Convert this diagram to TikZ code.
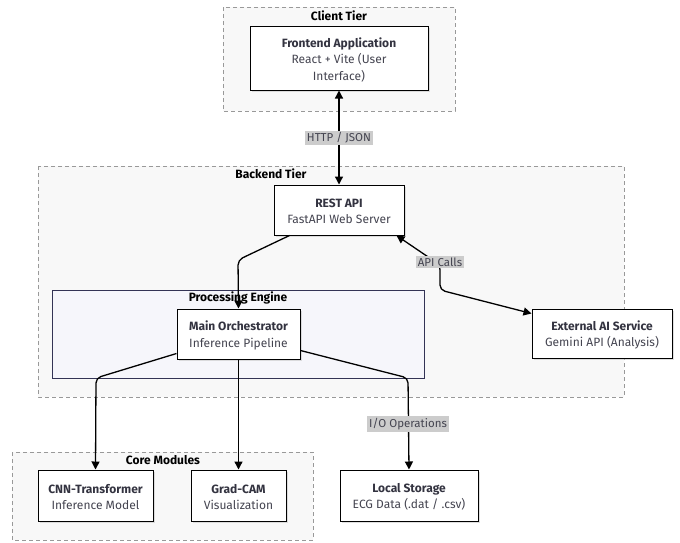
\documentclass[tikz,border=0pt]{standalone}
\usepackage{fontspec}
\setmainfont{Fira Sans}
\usetikzlibrary{arrows.meta,shadows,calc}
\definecolor{txt}{HTML}{333340}
\definecolor{sub}{HTML}{444450}
\definecolor{clfill}{HTML}{F8F8F8}
\definecolor{clline}{HTML}{999999}
\definecolor{pefill}{HTML}{F6F6FB}
\definecolor{peline}{HTML}{333355}
\definecolor{lblbg}{HTML}{CCCCCC}
\tikzset{
  x=1pt,y=-1pt,
  tier/.style={draw=clline,fill=clfill,dashed,dash pattern=on 4pt off 3pt,line width=0.9pt},
  engine/.style={draw=peline,fill=pefill,line width=1pt},
  comp/.style={draw=black,fill=white,line width=1pt,inner sep=0pt,
    drop shadow={shadow xshift=1.5pt,shadow yshift=-1.5pt,fill=black!25,opacity=0.5}},
  ttl/.style={font=\fontsize{12}{14}\selectfont\bfseries,text=black},
  nlab/.style={align=center,font=\fontsize{12}{16.5}\selectfont,text=sub,yshift=-1.5pt},
  conn/.style={draw=black,line width=1.3pt,rounded corners=5pt},
  tip/.style={-{Triangle[length=8pt,width=8pt]}},
  btip/.style={{Triangle[length=8pt,width=8pt]}-{Triangle[length=8pt,width=8pt]}},
  elab/.style={fill=lblbg,inner sep=2pt,font=\fontsize{11.5}{13}\selectfont,text=sub},
}
\begin{document}
\begin{tikzpicture}
\useasboundingbox (0,0) rectangle (680,542);
% clusters
\draw[tier] (223,7) rectangle (455,111);
\node[ttl] (tclient) at (339,16) {Client Tier};
\draw[tier] (38,166) rectangle (624,397);
\node[ttl] (tback) at (271,174) {Backend Tier};
\draw[engine] (52,290) rectangle (424,378);
\node[ttl] (tproc) at (238,298) {Processing Engine};
\draw[tier] (12,452) rectangle (313,540);
\node[ttl] (tcore) at (163,460) {Core Modules};
% nodes
\node[comp,minimum width=178pt,minimum height=64pt] (fe) at (339,58) {};
\node[nlab] at (fe) {\textbf{\color{txt}Frontend Application}\\React + Vite (User\\Interface)};
\node[comp,minimum width=130pt,minimum height=50pt] (rest) at (339,210) {};
\node[nlab] at (rest) {\textbf{\color{txt}REST API}\\FastAPI Web Server};
\node[comp,minimum width=123pt,minimum height=50pt] (orch) at (238.5,334) {};
\node[nlab] at (orch) {\textbf{\color{txt}Main Orchestrator}\\Inference Pipeline};
\node[comp,minimum width=140pt,minimum height=49pt] (ext) at (602,333.5) {};
\node[nlab] at (ext) {\textbf{\color{txt}External AI Service}\\Gemini API (Analysis)};
\node[comp,minimum width=115pt,minimum height=51pt] (cnn) at (95.5,495.5) {};
\node[nlab] at (cnn) {\textbf{\color{txt}CNN-Transformer}\\Inference Model};
\node[comp,minimum width=95pt,minimum height=51pt] (grad) at (238.5,495.5) {};
\node[nlab] at (grad) {\textbf{\color{txt}Grad-CAM}\\Visualization};
\node[comp,minimum width=138pt,minimum height=51pt] (store) at (409,495.5) {};
\node[nlab] at (store) {\textbf{\color{txt}Local Storage}\\ECG Data (.dat / .csv)};
% edges
\draw[conn,btip] (fe.south) -- (rest.north);
\node[elab] (l1) at (339,138) {HTTP / JSON};
\draw[conn,tip] ($(rest.south west)+(16,0)$) -- (238,260) -- (orch.north);
\draw[conn,tip] ($(orch.south west)+(0,-6)$) -- (96,378) -- (cnn.north);
\draw[conn,tip] (orch.south) -- (grad.north);
\draw[conn,tip] ($(orch.south east)+(0,-9)$) -- (408,378) -- (store.north);
\node[elab] (l2) at (408,424) {I/O Operations};
\draw[conn,btip] ($(rest.south east)+(-8,0)$) -- (440,265) -- (440,290) -- ($(ext.west)+(0,-20)$);
\node[elab] (l3) at (440,262) {API Calls};
\end{tikzpicture}
\end{document}
